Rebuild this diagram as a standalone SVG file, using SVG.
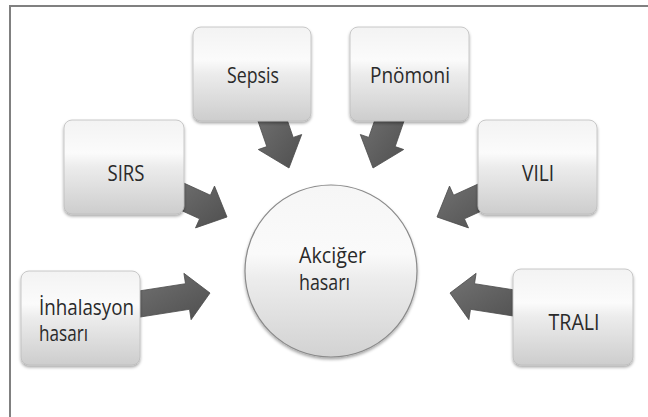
<svg xmlns="http://www.w3.org/2000/svg" width="648" height="417" viewBox="0 0 648 417">
<style>
.box{fill:url(#boxGrad);stroke:#bdbdbd;stroke-width:0.8;filter:url(#shadow)}
.hub{fill:url(#hubGrad);stroke:#8a8a8a;stroke-width:1.2;filter:url(#shadow)}
.arrow{fill:url(#arrGrad);stroke:#4a4a4a;stroke-width:0.8;stroke-linejoin:round}
.lbl{font-family:"Open Sans","DejaVu Sans",sans-serif;font-size:21px;fill:#2a2a2a}
.c{text-anchor:middle}
</style>
<defs>
<linearGradient id="boxGrad" x1="0" y1="0" x2="0" y2="1">
<stop offset="0" stop-color="#f3f3f3"/>
<stop offset="0.35" stop-color="#fbfbfb"/>
<stop offset="0.5" stop-color="#ececec"/>
<stop offset="1" stop-color="#cdcdcd"/>
</linearGradient>
<linearGradient id="hubGrad" x1="0" y1="0" x2="0" y2="1">
<stop offset="0" stop-color="#f6f6f6"/>
<stop offset="0.4" stop-color="#fafafa"/>
<stop offset="0.55" stop-color="#ececec"/>
<stop offset="1" stop-color="#d2d2d2"/>
</linearGradient>
<linearGradient id="arrGrad" x1="0" y1="0" x2="1" y2="1">
<stop offset="0" stop-color="#737373"/>
<stop offset="1" stop-color="#4f4f4f"/>
</linearGradient>
<filter id="shadow" x="-20%" y="-20%" width="140%" height="150%">
<feDropShadow dx="0" dy="2" stdDeviation="1.8" flood-color="#000" flood-opacity="0.35"/>
</filter>
</defs>
<rect x="0" y="0" width="648" height="417" fill="#fff"/>
<rect x="10" y="6" width="660" height="430" fill="none" stroke="#808080" stroke-width="2"/>
<g id="connectors">
<polygon class="arrow" points="255.4,113.5 266.8,146.6 258.3,149.5 289,168 301.7,134.5 293.2,137.4 281.8,104.3"/>
<polygon class="arrow" points="406.6,113.5 395.2,146.6 403.7,149.5 373,168 360.3,134.5 368.8,137.4 380.2,104.3"/>
<polygon class="arrow" points="163.2,202.2 199.6,218.8 195.5,227.9 227,217 214.5,186.1 210.4,195.2 174,178.6"/>
<polygon class="arrow" points="500.8,202.2 464.4,218.8 468.5,227.9 437,217 449.5,186.1 453.6,195.2 490,178.6"/>
<polygon class="arrow" points="135.2,317.8 189.5,309.3 191.1,319.7 210,293 183.9,273.3 185.5,283.7 131.2,292.2"/>
<polygon class="arrow" points="524.8,317.8 470.5,309.3 468.9,319.7 450,293 476.1,273.3 474.5,283.7 528.8,292.2"/>
</g>
<g id="sepsis">
<rect class="box" x="193" y="27" width="118" height="94" rx="8"/>
<text class="lbl c" x="253" y="83" textLength="52" lengthAdjust="spacingAndGlyphs">Sepsis</text>
</g>
<g id="pnomoni">
<rect class="box" x="350" y="27" width="119" height="94" rx="8"/>
<text class="lbl c" x="410" y="83" textLength="80" lengthAdjust="spacingAndGlyphs">Pnömoni</text>
</g>
<g id="sirs">
<rect class="box" x="64" y="120" width="120" height="94" rx="8"/>
<text class="lbl c" x="126" y="181" textLength="37" lengthAdjust="spacingAndGlyphs">SIRS</text>
</g>
<g id="vili">
<rect class="box" x="478" y="120" width="119" height="94" rx="8"/>
<text class="lbl c" x="538" y="181" textLength="32" lengthAdjust="spacingAndGlyphs">VILI</text>
</g>
<g id="inhalasyon">
<rect class="box" x="21" y="271" width="119" height="94" rx="8"/>
<text class="lbl" x="39" y="315" textLength="95" lengthAdjust="spacingAndGlyphs">İnhalasyon</text>
<text class="lbl" x="39" y="341" textLength="49" lengthAdjust="spacingAndGlyphs">hasarı</text>
</g>
<g id="trali">
<rect class="box" x="513" y="269" width="120" height="96" rx="8"/>
<text class="lbl c" x="574" y="330" textLength="51" lengthAdjust="spacingAndGlyphs">TRALI</text>
</g>
<g id="akciger">
<circle class="hub" cx="331" cy="271" r="86"/>
<text class="lbl" x="299" y="263" textLength="67" lengthAdjust="spacingAndGlyphs">Akciğer</text>
<text class="lbl" x="299" y="290" textLength="51" lengthAdjust="spacingAndGlyphs">hasarı</text>
</g>
</svg>
